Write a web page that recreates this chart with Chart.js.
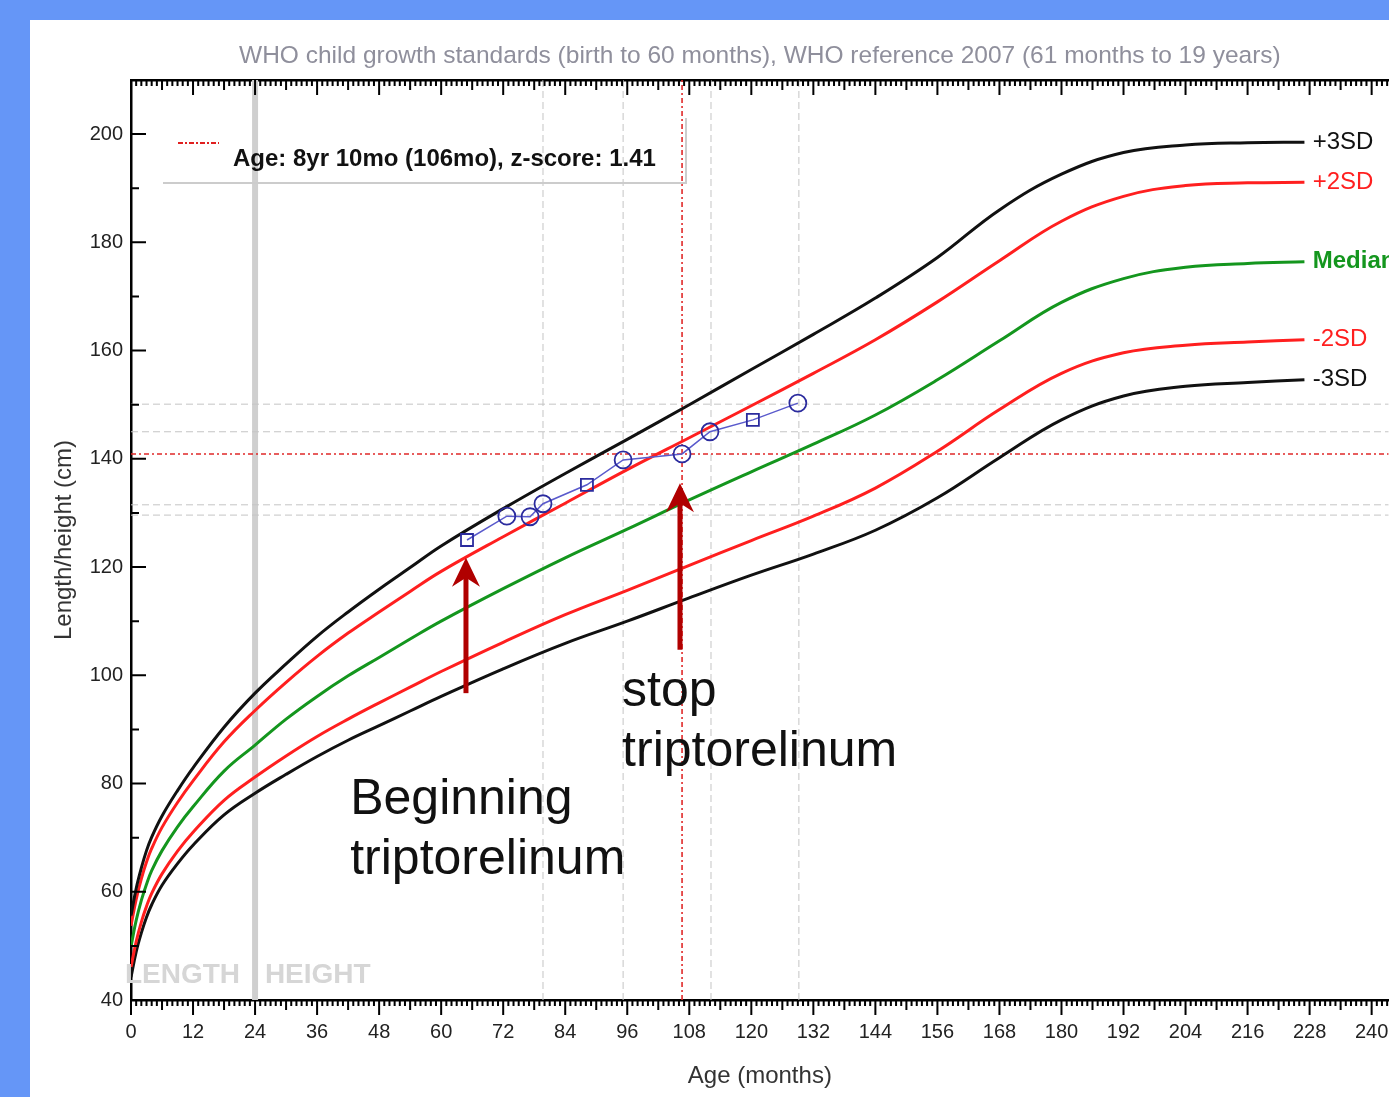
<!DOCTYPE html>
<html>
<head>
<meta charset="utf-8">
<script src="https://cdn.jsdelivr.net/npm/chart.js@4.4.1/dist/chart.umd.min.js"></script>
<style>
  html, body { margin: 0; padding: 0; }
  body { width: 1389px; height: 1097px; background: #6596f7; overflow: hidden; position: relative; }
  #panel { position: absolute; left: 30px; top: 20px; width: 1369px; height: 1077px; background: #fff; }
</style>
</head>
<body>
<div id="panel"><canvas id="growthChart"></canvas></div>
<script>
// WHO reference curves (boys)
const ages = [0, 1, 2, 3, 4, 6, 9, 12, 18, 24, 30, 36, 42, 48, 54, 60, 72, 84, 96, 108, 120, 132, 144, 156, 168, 180, 192, 204, 216, 227];
const plus3SD = [55.6, 60.6, 64.4, 67.6, 70.1, 74.0, 78.7, 82.9, 90.4, 96.7, 102.1, 107.2, 111.7, 115.9, 119.9, 123.9, 130.8, 137.3, 143.6, 150.0, 156.5, 163.0, 169.7, 177.2, 186.0, 192.6, 196.6, 198.0, 198.4, 198.5];
const plus2SD = [53.7, 58.6, 62.4, 65.5, 68.0, 71.9, 76.5, 80.5, 87.7, 93.5, 98.7, 103.5, 107.8, 111.7, 115.5, 119.2, 125.6, 131.8, 138.0, 143.9, 149.8, 155.8, 162.0, 169.0, 176.6, 183.9, 188.5, 190.5, 191.0, 191.1];
const median = [49.9, 54.7, 58.4, 61.4, 63.9, 67.6, 72.0, 75.7, 82.3, 87.1, 91.9, 96.1, 99.9, 103.3, 106.7, 110.0, 116.0, 121.7, 127.0, 132.4, 137.6, 142.7, 148.1, 154.6, 161.8, 168.9, 173.3, 175.4, 176.1, 176.4];
const minus2SD = [46.1, 50.8, 54.4, 57.3, 59.7, 63.3, 67.5, 71.0, 76.9, 81.2, 85.1, 88.7, 91.9, 94.9, 97.8, 100.7, 106.1, 111.2, 115.7, 120.3, 124.9, 129.4, 134.6, 141.4, 149.1, 155.8, 159.6, 161.0, 161.6, 162.0];
const minus3SD = [44.2, 48.9, 52.4, 55.3, 57.6, 61.2, 65.2, 68.6, 74.2, 78.2, 81.7, 85.0, 88.0, 90.7, 93.4, 96.1, 101.2, 105.9, 110.0, 114.3, 118.5, 122.4, 126.8, 132.8, 140.2, 147.2, 151.6, 153.4, 154.1, 154.6];
const curveLabels = ["+3SD", "+2SD", "Median", "-2SD", "-3SD"];

// patient measurements
const visitAges = [65.0, 72.7, 77.2, 79.7, 88.2, 95.2, 106.6, 112.0, 120.3, 129.0];
const visitHeights = [125.0, 129.4, 129.3, 131.7, 135.2, 139.8, 140.9, 145.0, 147.2, 150.3];
const visitMarkers = ["rect", "circle", "circle", "circle", "rect", "circle", "circle", "circle", "rect", "circle"];

// dashed guide lines
const guideAges = [79.7, 95.2, 112.2, 129.2];
const guideHeights = [150.1, 145.0, 131.5, 129.6];
const markAge = 106.6;
const markHeight = 140.9;

// treatment arrows
const arrowAges = [64.8, 106.2];
const arrowFrom = [96.7, 104.7];
const arrowTo = [121.7, 135.5];

const FONT = '"Liberation Sans", Arial, sans-serif';
const xMin = 0, xMax = 243.3, yMin = 40, yMax = 210;

const toPoints = (xs, ys) => xs.map((v, i) => ({ x: v, y: ys[i] }));

function curve(values, color) {
  return {
    data: toPoints(ages, values),
    borderColor: color,
    borderWidth: 3,
    pointRadius: 0,
    tension: 0.4,
    order: 5,
  };
}

function guide(points, color, dash, width, order) {
  return { data: points, borderColor: color, borderDash: dash, borderWidth: width, pointRadius: 0, order: order };
}

const datasets = [
  {
    data: toPoints(visitAges, visitHeights),
    borderColor: "#5a5acc",
    borderWidth: 1.5,
    pointStyle: visitMarkers,
    pointRadius: 8.5,
    pointBorderWidth: 1.8,
    pointBorderColor: "#2b2b9e",
    pointBackgroundColor: "rgba(0,0,0,0)",
    order: 1,
  },
  curve(plus3SD, "#111111"),
  curve(plus2SD, "#ff1f1f"),
  curve(median, "#14961e"),
  curve(minus2SD, "#ff1f1f"),
  curve(minus3SD, "#111111"),
  guide([{ x: markAge, y: yMin }, { x: markAge, y: yMax }], "#e02828", [5, 3, 2, 3], 1.6, 8),
  guide([{ x: xMin, y: markHeight }, { x: xMax, y: markHeight }], "#e02828", [5, 3, 2, 3], 1.6, 8),
  guide([{ x: 24, y: yMin }, { x: 24, y: yMax }], "#cfcfcf", [], 6, 20),
];
guideAges.forEach(a => datasets.push(guide([{ x: a, y: yMin }, { x: a, y: yMax }], "#c4c4c4", [7, 4], 1, 12)));
guideHeights.forEach(h => datasets.push(guide([{ x: xMin, y: h }, { x: xMax, y: h }], "#c4c4c4", [7, 4], 1, 12)));

// ticks, arrows, labels and the legend box
const overlay = {
  id: "overlay",
  beforeDatasetsDraw(chart) {
    const { ctx, scales: { x, y } } = chart;
    ctx.save();
    ctx.font = "bold 28px " + FONT;
    ctx.fillStyle = "#d6d6d6";
    ctx.textBaseline = "middle";
    ctx.textAlign = "right";
    ctx.fillText("LENGTH", x.getPixelForValue(21.1), y.getPixelForValue(44.6));
    ctx.textAlign = "left";
    ctx.fillText("HEIGHT", x.getPixelForValue(25.9), y.getPixelForValue(44.6));
    ctx.restore();
  },
  afterDatasetsDraw(chart) {
    const { ctx, chartArea: a, scales: { x, y } } = chart;
    ctx.save();

    // minor / major ticks
    ctx.strokeStyle = "#000";
    ctx.lineWidth = 2;
    ctx.beginPath();
    for (let m = 0; m <= xMax; m++) {
      const px = x.getPixelForValue(m);
      const len = m % 12 === 0 ? 15 : (m % 6 === 0 ? 10 : 6);
      ctx.moveTo(px, a.bottom); ctx.lineTo(px, a.bottom + len);
      ctx.moveTo(px, a.top); ctx.lineTo(px, a.top + len);
    }
    for (let v = yMin; v <= yMax; v += 10) {
      const py = y.getPixelForValue(v);
      const len = v % 20 === 0 ? 15 : 8;
      ctx.moveTo(a.left, py); ctx.lineTo(a.left + len, py);
    }
    ctx.stroke();

    // arrows
    ctx.strokeStyle = "#b00000";
    ctx.fillStyle = "#b00000";
    arrowAges.forEach((m, i) => {
      const px = x.getPixelForValue(m);
      const y0 = y.getPixelForValue(arrowFrom[i]);
      const y1 = y.getPixelForValue(arrowTo[i]);
      ctx.lineWidth = 5;
      ctx.beginPath();
      ctx.moveTo(px, y0); ctx.lineTo(px, y1 + 16);
      ctx.stroke();
      ctx.beginPath();
      ctx.moveTo(px, y1);
      ctx.lineTo(px + 14, y1 + 29);
      ctx.lineTo(px, y1 + 20);
      ctx.lineTo(px - 14, y1 + 29);
      ctx.closePath();
      ctx.fill();
    });

    // curve labels
    const ends = [plus3SD, plus2SD, median, minus2SD, minus3SD].map(s => s[s.length - 1]);
    const colors = ["#111", "#ff1f1f", "#14961e", "#ff1f1f", "#111"];
    ctx.textBaseline = "middle";
    ctx.textAlign = "left";
    ends.forEach((v, i) => {
      ctx.font = (i === 2 ? "bold " : "") + "24px " + FONT;
      ctx.fillStyle = colors[i];
      ctx.fillText(curveLabels[i], x.getPixelForValue(228.6), y.getPixelForValue(v));
    });

    // annotation text
    ctx.font = "50px " + FONT;
    ctx.fillStyle = "#111";
    ctx.fillText("Beginning", x.getPixelForValue(42.4), y.getPixelForValue(77.0));
    ctx.fillText("triptorelinum", x.getPixelForValue(42.4), y.getPixelForValue(65.9));
    ctx.fillText("stop", x.getPixelForValue(95.0), y.getPixelForValue(96.9));
    ctx.fillText("triptorelinum", x.getPixelForValue(95.0), y.getPixelForValue(85.8));

    // legend box
    ctx.strokeStyle = "#cccccc";
    ctx.lineWidth = 2;
    ctx.beginPath();
    ctx.moveTo(a.left + 555, a.top + 38);
    ctx.lineTo(a.left + 555, a.top + 103);
    ctx.lineTo(a.left + 32, a.top + 103);
    ctx.stroke();
    ctx.strokeStyle = "#e02020";
    ctx.setLineDash([5, 2, 2, 2]);
    ctx.beginPath();
    ctx.moveTo(a.left + 47, a.top + 63);
    ctx.lineTo(a.left + 88, a.top + 63);
    ctx.stroke();
    ctx.setLineDash([]);
    ctx.font = "bold 24px " + FONT;
    ctx.fillStyle = "#111";
    ctx.fillText("Age: 8yr 10mo (106mo), z-score: 1.41", a.left + 102, a.top + 79);

    ctx.restore();
  },
};

function noSidePadding(s) {
  s.paddingLeft = 0;
  s.paddingRight = 0;
}

const ctx = document.getElementById("growthChart").getContext("2d");
const growthChart = new Chart(ctx, {
  type: "line",
  data: { datasets: datasets },
  plugins: [overlay],
  options: {
    responsive: true,
    maintainAspectRatio: false,
    animation: false,
    layout: { padding: 0 },
    plugins: { legend: { display: false }, tooltip: { enabled: false } },
    scales: {
      x: {
        type: "linear",
        position: "bottom",
        min: xMin,
        max: xMax,
        grid: { display: false, drawTicks: false },
        border: { display: true, color: "#000", width: 2.5 },
        ticks: {
          stepSize: 12,
          includeBounds: false,
          maxRotation: 0,
          autoSkip: false,
          padding: 20,
          color: "#222",
          font: { family: FONT, size: 20 },
          callback: v => (v % 12 === 0 ? v : ""),
        },
        title: { display: true, text: "Age (months)", color: "#333", font: { family: FONT, size: 24 }, padding: { top: 0, bottom: 6 } },
        afterFit: s => { s.height = 97; noSidePadding(s); },
      },
      xTop: {
        type: "linear",
        position: "top",
        min: xMin,
        max: xMax,
        grid: { display: false, drawTicks: false },
        border: { display: true, color: "#000", width: 2.5 },
        ticks: { display: false },
        title: {
          display: true,
          text: "WHO child growth standards (birth to 60 months), WHO reference 2007 (61 months to 19 years)",
          color: "#8f8f9c",
          font: { family: FONT, size: 24.5 },
          padding: { top: 22, bottom: 0 },
        },
        afterFit: s => { s.height = 60; noSidePadding(s); },
      },
      y: {
        type: "linear",
        min: yMin,
        max: yMax,
        grid: { display: false, drawTicks: false },
        border: { display: true, color: "#000", width: 2.5 },
        ticks: {
          stepSize: 20,
          includeBounds: false,
          padding: 8,
          color: "#222",
          font: { family: FONT, size: 20 },
          callback: v => (v % 20 === 0 ? v : ""),
        },
        title: { display: true, text: "Length/height (cm)", color: "#333", font: { family: FONT, size: 24 }, padding: { top: 20, bottom: 0 } },
        afterFit: s => { s.width = 101; },
      },
    },
  },
});
</script>
</body>
</html>
